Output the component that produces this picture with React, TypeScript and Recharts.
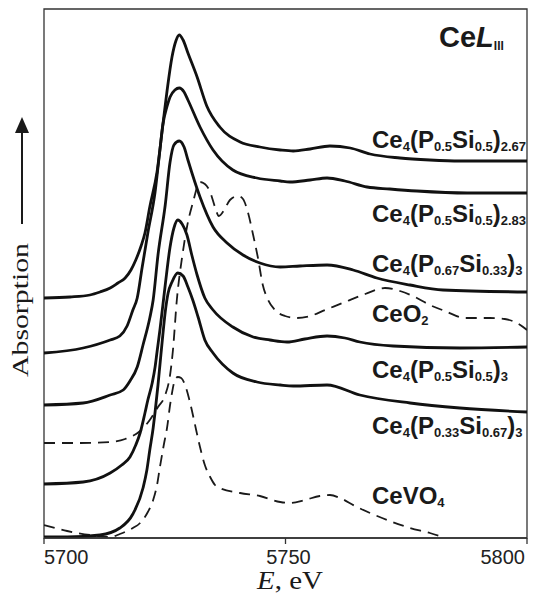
import { Line, LineChart, ReferenceArea, XAxis, YAxis } from "recharts"

// Ce L-III XANES spectra, energies in eV, absorption in arbitrary offset units
const energyTicks = [5700, 5750, 5800]

const p267E = [5700.0, 5705.4, 5709.5, 5711.6, 5713.7, 5715.3, 5716.8, 5718.0, 5719.0, 5720.1, 5720.9, 5721.9, 5723.4, 5724.6, 5725.5, 5726.5, 5727.3, 5728.0, 5728.8, 5729.8, 5731.7, 5733.7, 5736.4, 5740.6, 5744.7, 5748.9, 5751.6, 5755.1, 5759.2, 5763.4, 5767.5, 5773.7, 5779.9, 5786.1, 5800.0]
const p267Y = [240, 241, 243, 246, 250, 255, 260, 268, 278, 292, 305, 331, 366, 413, 448, 481, 497, 503, 498, 485, 461, 432, 411, 396, 391, 388, 387, 389, 392, 390, 384, 380, 378, 377, 377]

const p283E = [5700.0, 5708.1, 5713.7, 5715.7, 5717.2, 5718.4, 5719.3, 5720.3, 5721.5, 5723.0, 5724.0, 5724.6, 5725.5, 5726.1, 5727.1, 5728.0, 5729.0, 5729.8, 5732.3, 5735.0, 5739.1, 5744.1, 5748.9, 5750.9, 5755.1, 5758.6, 5762.3, 5766.9, 5771.6, 5777.2, 5787.6, 5800.0]
const p283Y = [185, 190, 198, 202, 212, 228, 240, 270, 305, 346, 388, 413, 432, 441, 448, 450, 446, 438, 411, 388, 368, 360, 357, 356, 358, 360, 357, 351, 349, 347, 345, 345]

const p067E = [5700.0, 5708.1, 5713.7, 5716.4, 5717.8, 5719.3, 5720.5, 5721.9, 5722.6, 5723.6, 5725.1, 5726.1, 5726.9, 5728.0, 5729.0, 5729.8, 5732.3, 5735.0, 5737.9, 5741.2, 5744.7, 5748.9, 5753.0, 5758.6, 5764.0, 5768.9, 5775.8, 5782.6, 5800.0]
const p067Y = [133, 135, 143, 148, 157, 171, 193, 220, 238, 283, 333, 376, 393, 397, 391, 378, 341, 311, 295, 283, 275, 271, 272, 273, 268, 260, 253, 248, 246]

const p050E = [5700.0, 5708.1, 5713.7, 5716.1, 5717.8, 5719.0, 5719.9, 5720.9, 5721.5, 5722.4, 5723.0, 5723.4, 5724.0, 5725.1, 5726.1, 5726.9, 5727.7, 5728.6, 5729.6, 5730.6, 5731.7, 5733.3, 5735.0, 5739.1, 5743.3, 5746.8, 5750.3, 5754.0, 5758.6, 5762.3, 5765.4, 5772.3, 5786.1, 5800.0]
const p050Y = [54, 56, 65, 73, 81, 93, 105, 125, 138, 155, 171, 186, 208, 253, 291, 310, 318, 314, 303, 283, 263, 240, 228, 211, 201, 198, 196, 199, 202, 200, 196, 192, 190, 191]

const p033E = [5700.0, 5704.8, 5711.6, 5715.7, 5718.4, 5720.5, 5721.3, 5721.9, 5722.6, 5723.0, 5723.6, 5724.0, 5724.6, 5725.1, 5725.7, 5726.5, 5727.7, 5728.8, 5729.8, 5730.8, 5731.9, 5733.3, 5735.0, 5739.1, 5744.1, 5748.9, 5751.6, 5758.6, 5765.4, 5775.8, 5786.1, 5800.0]
const p033Y = [1, 1, 3, 10, 24, 50, 68, 88, 110, 126, 153, 173, 203, 226, 245, 256, 265, 262, 251, 238, 221, 198, 185, 165, 156, 153, 152, 153, 143, 135, 130, 126]

const ceo2E = [5700.0, 5707.5, 5713.7, 5716.8, 5719.9, 5721.9, 5723.6, 5725.1, 5726.1, 5726.7, 5727.5, 5728.6, 5729.6, 5730.8, 5732.3, 5733.3, 5734.4, 5735.4, 5736.2, 5737.3, 5738.5, 5740.2, 5741.2, 5742.2, 5743.3, 5744.3, 5745.3, 5746.4, 5747.8, 5749.9, 5752.4, 5755.1, 5758.2, 5762.3, 5766.5, 5770.6, 5773.7, 5776.8, 5779.9, 5783.0, 5787.2, 5792.3, 5795.4, 5798.6, 5800.0]
const ceo2Y = [95, 95, 96, 99, 107, 118, 131, 143, 163, 188, 238, 281, 311, 335, 356, 354, 346, 331, 322, 328, 338, 342, 339, 326, 303, 280, 253, 238, 228, 222, 220, 222, 228, 236, 244, 250, 247, 241, 233, 227, 220, 220, 219, 213, 208]

const cevo4E = [5700.0, 5704.8, 5709.5, 5713.7, 5715.7, 5718.4, 5719.9, 5721.5, 5722.6, 5723.4, 5724.0, 5724.8, 5725.5, 5726.1, 5726.5, 5727.1, 5727.7, 5728.4, 5729.2, 5730.0, 5730.6, 5731.5, 5732.3, 5733.3, 5734.4, 5735.4, 5736.4, 5740.6, 5744.7, 5748.9, 5750.9, 5754.0, 5757.1, 5759.2, 5761.3, 5764.4, 5767.5, 5771.6, 5775.8, 5779.9, 5782.6]
const cevo4Y = [13, 7, 3, 1, 4, 10, 15, 26, 38, 53, 71, 93, 111, 133, 145, 158, 161, 160, 153, 140, 128, 108, 91, 73, 61, 53, 50, 45, 42, 36, 35, 38, 42, 43, 40, 32, 25, 17, 10, 5, 1]

const toRows = (e: number[], y: number[]) => e.map((v, i) => ({ e: v, a: y[i] }))

const solidSeries = [
    { id: "p267", rows: toRows(p267E, p267Y) },
    { id: "p283", rows: toRows(p283E, p283Y) },
    { id: "p067", rows: toRows(p067E, p067Y) },
    { id: "p050", rows: toRows(p050E, p050Y) },
    { id: "p033", rows: toRows(p033E, p033Y) }
]
const dashedSeries = [
    { id: "ceo2", rows: toRows(ceo2E, ceo2Y) },
    { id: "cevo4", rows: toRows(cevo4E, cevo4Y) }
]

type Part = { t: string; sub?: boolean }

const sans = "'Liberation Sans', Arial, Helvetica, sans-serif"
const serif = "'Liberation Serif', 'Times New Roman', serif"

// chemical formula with subscripts
function Formula({ x, y, parts }: { x: number; y: number; parts: Part[] }) {
    let prevSub = false
    return (
        <text x={x} y={y} fontFamily={sans} fontWeight="bold" fontSize={24} fill="#1a1a1a">
            {parts.map((p, i) => {
                const dy = p.sub && !prevSub ? 3 : !p.sub && prevSub ? -3 : 0
                prevSub = !!p.sub
                return (
                    <tspan key={i} dy={dy} fontSize={p.sub ? 13 : 24}>
                        {p.t}
                    </tspan>
                )
            })}
        </text>
    )
}

const labels: { y: number; parts: Part[] }[] = [
    { y: 148, parts: [{ t: "Ce" }, { t: "4", sub: true }, { t: "(P" }, { t: "0.5", sub: true }, { t: "Si" }, { t: "0.5", sub: true }, { t: ")" }, { t: "2.67", sub: true }] },
    { y: 222, parts: [{ t: "Ce" }, { t: "4", sub: true }, { t: "(P" }, { t: "0.5", sub: true }, { t: "Si" }, { t: "0.5", sub: true }, { t: ")" }, { t: "2.83", sub: true }] },
    { y: 272, parts: [{ t: "Ce" }, { t: "4", sub: true }, { t: "(P" }, { t: "0.67", sub: true }, { t: "Si" }, { t: "0.33", sub: true }, { t: ")" }, { t: "3", sub: true }] },
    { y: 322, parts: [{ t: "CeO" }, { t: "2", sub: true }] },
    { y: 378, parts: [{ t: "Ce" }, { t: "4", sub: true }, { t: "(P" }, { t: "0.5", sub: true }, { t: "Si" }, { t: "0.5", sub: true }, { t: ")" }, { t: "3", sub: true }] },
    { y: 434, parts: [{ t: "Ce" }, { t: "4", sub: true }, { t: "(P" }, { t: "0.33", sub: true }, { t: "Si" }, { t: "0.67", sub: true }, { t: ")" }, { t: "3", sub: true }] },
    { y: 504, parts: [{ t: "CeVO" }, { t: "4", sub: true }] }
]

const renderTick = (props: any) => {
    const { x, y, payload } = props
    const v = payload.value
    const anchor = v === 5700 ? "start" : v === 5800 ? "end" : "middle"
    const dx = v === 5800 ? 7 : v === 5750 ? 3 : 0
    return (
        <text x={x + dx} y={y} dy={18} textAnchor={anchor} fontFamily={sans} fontSize={20} fill="#222">
            {v}
        </text>
    )
}

export default function App() {
    return (
        <div style={{ position: "absolute", left: 0, top: 0, width: 534, height: 598, background: "#fff" }}>
            <LineChart width={534} height={598} margin={{ top: 9, right: 7, bottom: 0, left: 44 }}>
                <XAxis
                    dataKey="e"
                    type="number"
                    domain={[5700, 5800]}
                    ticks={energyTicks}
                    allowDataOverflow
                    height={60}
                    tickSize={6}
                    tick={renderTick}
                    stroke="#333"
                    strokeWidth={1.3}
                />
                <YAxis hide type="number" domain={[0, 529]} allowDataOverflow />
                <ReferenceArea x1={5700} x2={5800} y1={0} y2={529} fill="none" stroke="#333" strokeWidth={1.3} />
                {dashedSeries.map(s => (
                    <Line
                        key={s.id}
                        data={s.rows}
                        dataKey="a"
                        type="monotone"
                        stroke="#1a1a1a"
                        strokeWidth={1.8}
                        strokeDasharray="11 7"
                        dot={false}
                        isAnimationActive={false}
                    />
                ))}
                {solidSeries.map(s => (
                    <Line
                        key={s.id}
                        data={s.rows}
                        dataKey="a"
                        type="monotone"
                        stroke="#111"
                        strokeWidth={2.8}
                        dot={false}
                        isAnimationActive={false}
                    />
                ))}
            </LineChart>
            <svg width={534} height={598} style={{ position: "absolute", left: 0, top: 0, pointerEvents: "none" }}>
                <text x={439} y={47} fontFamily={sans} fontWeight="bold" fontSize={29} fill="#1a1a1a">
                    Ce<tspan fontStyle="italic">L</tspan>
                    <tspan fontSize={12} dy={3}>III</tspan>
                </text>
                {labels.map((l, i) => (
                    <Formula key={i} x={372} y={l.y} parts={l.parts} />
                ))}
                <line x1={22} y1={224} x2={22} y2={130} stroke="#1a1a1a" strokeWidth={2} />
                <polygon points="15,133 29,133 22,117" fill="#1a1a1a" />
                <text
                    transform="translate(28,310) rotate(-90)"
                    textAnchor="middle"
                    fontFamily={serif}
                    fontSize={24}
                    textLength={134}
                    lengthAdjust="spacingAndGlyphs"
                    fill="#1a1a1a"
                >
                    Absorption
                </text>
                <text x={257} y={589} fontFamily={serif} fontSize={26} textLength={66} lengthAdjust="spacingAndGlyphs" fill="#1a1a1a">
                    <tspan fontStyle="italic">E</tspan>, eV
                </text>
            </svg>
        </div>
    )
}
